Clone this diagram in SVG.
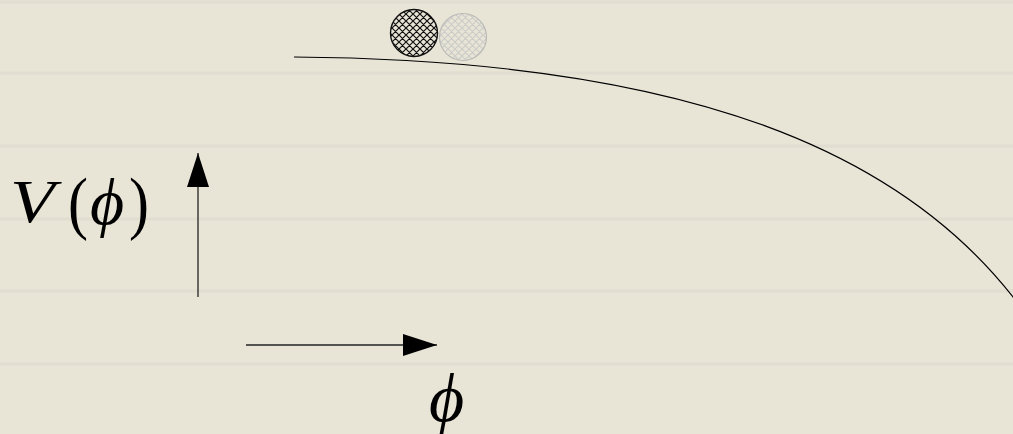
<svg xmlns="http://www.w3.org/2000/svg" width="1013" height="434" viewBox="0 0 1013 434">
  <defs>
    <pattern id="hatchDark" patternUnits="userSpaceOnUse" width="7" height="7">
      <path d="M0,0 L7,7 M7,0 L0,7 M-1,6 L1,8 M6,-1 L8,1 M-1,1 L1,-1 M6,8 L8,6" stroke="#111" stroke-width="1.2"/>
    </pattern>
    <pattern id="hatchLight" patternUnits="userSpaceOnUse" width="7" height="7">
      <path d="M0,0 L7,7 M7,0 L0,7 M-1,6 L1,8 M6,-1 L8,1 M-1,1 L1,-1 M6,8 L8,6" stroke="#cbcbc8" stroke-width="1.1"/>
    </pattern>
    <marker id="arrow" markerUnits="userSpaceOnUse" viewBox="0 0 34 22" refX="34" refY="11" markerWidth="34" markerHeight="22" orient="auto">
      <path d="M0,0 L34,11 L0,22 Z" fill="#000"/>
    </marker>
  </defs>
  <style>
    .rule { stroke: #dcd8cb; stroke-width: 3; opacity: 0.55; }
    .axis { stroke: #222; stroke-width: 1.3; fill: none; }
    .math { font-family: "Liberation Serif", "DejaVu Serif", serif; font-style: italic; fill: #000; }
    .upright { font-family: "Liberation Serif", "DejaVu Serif", serif; font-style: normal; fill: #000; }
  </style>
  <rect width="1013" height="434" fill="#e8e5d7"/>
  <g id="paper-lines">
    <line class="rule" x1="0" y1="2" x2="1013" y2="2"/>
    <line class="rule" x1="0" y1="73" x2="1013" y2="73"/>
    <line class="rule" x1="0" y1="146" x2="1013" y2="146"/>
    <line class="rule" x1="0" y1="219" x2="1013" y2="219"/>
    <line class="rule" x1="0" y1="291" x2="1013" y2="291"/>
    <line class="rule" x1="0" y1="364" x2="1013" y2="364"/>
  </g>
  <g id="potential-curve">
    <path d="M294,57 C700,60 903,157 1013,297 L1030,322" fill="none" stroke="#000" stroke-width="1.2"/>
  </g>
  <g id="ball-ghost">
    <circle cx="463" cy="37" r="23.5" fill="url(#hatchLight)" stroke="#b9b9b6" stroke-width="1.2"/>
  </g>
  <g id="ball">
    <circle cx="414" cy="33" r="23.5" fill="url(#hatchDark)" stroke="#111" stroke-width="1.4"/>
  </g>
  <g id="connectors">
    <line class="axis" x1="198" y1="297" x2="198" y2="153" marker-end="url(#arrow)"/>
    <line class="axis" x1="246" y1="345" x2="437" y2="345" marker-end="url(#arrow)"/>
  </g>
  <g id="label-V">
    <text class="math" transform="translate(10,222) scale(1.2,1)" font-size="61">V</text>
    <text class="upright" transform="translate(68,226) scale(1,1.15)" font-size="60">(</text>
    <text class="math" x="90" y="224" font-size="66">ϕ</text>
    <text class="upright" transform="translate(129,226) scale(1,1.15)" font-size="60">)</text>
  </g>
  <g id="label-phi">
    <text class="math" x="429" y="421" font-size="68">ϕ</text>
  </g>
</svg>
